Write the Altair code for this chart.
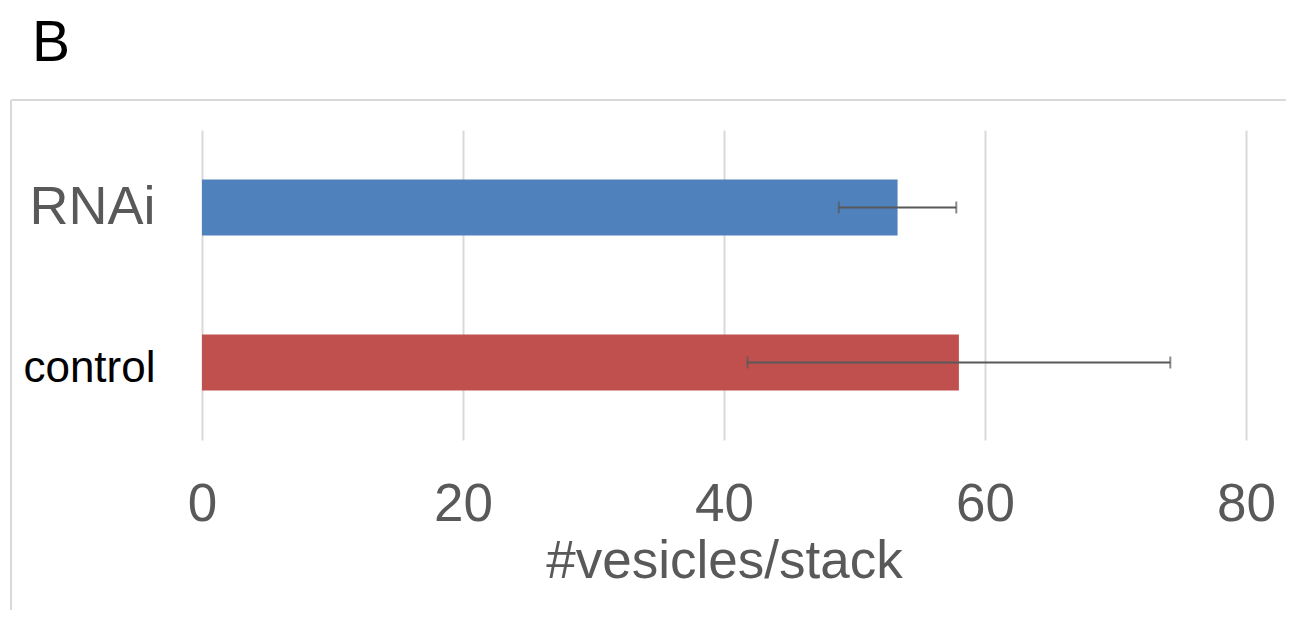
import altair as alt
import pandas as pd

categories = ["RNAi", "control"]
means = [53.3, 58.0]
errors = [4.5, 16.2]
bar_colors = ["#4F81BD", "#C0504D"]
x_ticks = [0, 20, 40, 60, 80]
panel_label = ["B"]

df = pd.DataFrame({"cat": categories, "mean": means, "err": errors, "color": bar_colors})
df["lo"] = df["mean"] - df["err"]
df["hi"] = df["mean"] + df["err"]

FONT = "Liberation Sans, Arial, sans-serif"
GRAY = "#595959"

ysc = alt.Scale(domain=categories, paddingInner=0.64, paddingOuter=0.32)
xsc = alt.Scale(domain=[0, 80], nice=False, zero=True)

x_axis = alt.Axis(
    values=x_ticks, title="#vesicles/stack", grid=True, gridColor="#D9D9D9",
    gridWidth=2, ticks=False, domain=False, labelFont=FONT, labelFontSize=53,
    labelColor=GRAY, labelPadding=38, labelFlush=False, titleFont=FONT, titleFontSize=53,
    titleColor=GRAY, titleFontWeight="normal", titlePadding=4,
)
y_axis = alt.Axis(
    title=None, ticks=False, domain=False, grid=False, labelFont=FONT,
    labelAlign="right", labelBaseline="middle", labelPadding=47,
    labelColor=alt.condition("datum.value == 'RNAi'", alt.value(GRAY), alt.value("#000000")),
    labelFontSize=alt.condition("datum.value == 'RNAi'", alt.value(54), alt.value(44)),
    labelOffset=alt.condition("datum.value == 'RNAi'", alt.value(0), alt.value(6)),
)

base = alt.Chart(df)
Y = alt.Y("cat:N", scale=ysc, axis=y_axis, sort=categories)

bars = base.mark_bar().encode(
    y=Y,
    x=alt.X("mean:Q", scale=xsc, axis=x_axis),
    color=alt.Color("color:N", scale=None),
)
err_line = base.mark_rule(color=GRAY, strokeWidth=2).encode(
    y=Y, x=alt.X("lo:Q", scale=xsc, axis=x_axis), x2="hi:Q"
)
cap_lo = base.mark_tick(color=GRAY, thickness=2, size=12).encode(
    y=Y, x=alt.X("lo:Q", scale=xsc, axis=x_axis)
)
cap_hi = base.mark_tick(color=GRAY, thickness=2, size=12).encode(
    y=Y, x=alt.X("hi:Q", scale=xsc, axis=x_axis)
)

one = pd.DataFrame({"t": panel_label})
label = alt.Chart(one).mark_text(
    font=FONT, fontSize=57, align="left", baseline="alphabetic", color="black"
).encode(x=alt.value(-170), y=alt.value(-69), text="t:N")

border_top = alt.Chart(one).mark_rule(color="#D9D9D9", strokeWidth=2).encode(
    x=alt.value(-191), x2=alt.value(1100), y=alt.value(-30)
)
border_left = alt.Chart(one).mark_rule(color="#D9D9D9", strokeWidth=2).encode(
    x=alt.value(-191), y=alt.value(-30), y2=alt.value(500)
)

chart = alt.layer(border_top, border_left, bars, err_line, cap_lo, cap_hi, label).properties(
    width=1044, height=310,
    autosize=alt.AutoSizeParams(type="none"),
    padding={"left": 194, "top": 122, "right": 40, "bottom": 170},
    background="white",
).configure_view(stroke=None)

chart.save("out.html", embed_options={"renderer": "svg", "actions": False})
